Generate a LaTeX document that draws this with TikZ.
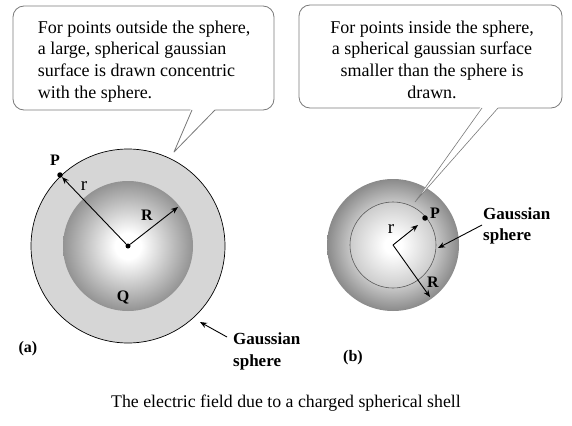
\documentclass[tikz,border=0pt]{standalone}
\usepackage{fontspec}
\setmainfont{Liberation Serif}
\usetikzlibrary{arrows.meta,calc}
\definecolor{ringA}{HTML}{D6D6D6}
\definecolor{edgeA}{HTML}{939393}
\definecolor{edgeB}{HTML}{8A8A8A}
\definecolor{midB}{HTML}{C8C8C8}
\definecolor{edgeC}{HTML}{CCCCCC}
\definecolor{boxline}{HTML}{7A7A7A}
\pgfdeclareradialshading{ballA}{\pgfpoint{0bp}{0bp}}{color(0bp)=(white); color(5bp)=(white); color(25bp)=(edgeA); color(50bp)=(edgeA)}
\pgfdeclareradialshading{ballB}{\pgfpoint{0bp}{0bp}}{color(0bp)=(midB); color(16bp)=(midB); color(25bp)=(edgeB); color(50bp)=(edgeB)}
\pgfdeclareradialshading{ballC}{\pgfpoint{0bp}{0bp}}{color(0bp)=(white); color(5bp)=(white); color(25bp)=(edgeC); color(50bp)=(edgeC)}
\begin{document}
\begin{tikzpicture}[x=1pt,y=-1pt,
  lbl/.style={font=\fontsize{16}{16}\selectfont\bfseries, inner sep=0pt},
  rlbl/.style={font=\fontsize{19}{19}\selectfont, inner sep=0pt},
  gs/.style={font=\fontsize{17}{21}\selectfont\bfseries, align=left, inner sep=0pt},
  arr/.style={-{Stealth[length=7pt,width=5.5pt]}, line width=0.9pt},
  dot/.style={circle, fill=black, inner sep=0pt, minimum size=5.5pt},
  callout/.style={draw=boxline, line width=0.8pt, rounded corners=11pt, fill=white, inner sep=0pt},
  ctext/.style={inner sep=0pt, font=\fontsize{18}{21.7}\selectfont},
  tail/.style={draw=boxline, line width=0.8pt, line join=round}
]
\useasboundingbox[fill=white] (0,0) rectangle (572,425);

% ---------- (a) ----------
\coordinate (A) at (128,246);
\fill[ringA] (A) circle[radius=97];
\draw[line width=0.7pt] (A) circle[radius=97];
\shade[shading=ballA] (A) circle[radius=65];
\node[dot] (Pa) at (60,175) {};
\node[dot, minimum size=5pt] (Ca) at (A) {};
\coordinate (Ra) at (178,207);
\draw[arr] (Ca) -- (Pa);
\draw[arr] (Ca) -- (Ra);
\node[lbl] (Pla) at (55,160) {P};
\node[rlbl] (rla) at (84,186) {r};
\node[lbl] (Rla) at (147,215) {R};
\node[lbl] (Qla) at (123,297) {Q};
\node[gs, anchor=north west] (Ga) at (233,333) {Gaussian\\sphere};
\coordinate (Gta) at (227,337);
\coordinate (Gha) at (200,322);
\draw[arr] (Gta) -- (Gha);
\node[font=\fontsize{16}{16}\selectfont\bfseries, inner sep=0pt] (la) at (28,349) {(a)};

% callout (a)
\node[callout, minimum width=261pt, minimum height=104pt] (ca) at (143.5,58) {};
\node[ctext, align=left] (cat) at (144,61.5)
  {For points outside the sphere,\\a large, spherical gaussian\\surface is drawn concentric\\with the sphere.};
\coordinate (ta1) at (192,110);
\coordinate (ta2) at (215,110);
\coordinate (tat) at (174,152);
\fill[white] (191,108.5) -- (tat) -- (216,108.5) -- cycle;
\draw[tail] (ta1) -- (tat) -- (ta2);

% ---------- (b) ----------
\coordinate (B) at (393,245);
\shade[shading=ballB] (B) circle[radius=66];
\shade[shading=ballC] (B) circle[radius=43];
\draw[black!65, line width=0.6pt] (B) circle[radius=43];
\node[dot] (Pb) at (425,218) {};
\coordinate (rb) at (418,225);
\coordinate (Rb) at (430,297);
\draw[arr] (B) -- (rb);
\draw[arr] (B) -- (Rb);
\node[lbl] (Plb) at (435,213) {P};
\node[rlbl] (rlb) at (391,229) {r};
\node[lbl] (Rlb) at (433,282) {R};
\node[gs, anchor=north west] (Gb) at (483,208) {Gaussian\\sphere};
\coordinate (Gtb) at (482,225);
\coordinate (Ghb) at (438,248);
\draw[arr] (Gtb) -- (Ghb);
\node[font=\fontsize{16}{16}\selectfont\bfseries, inner sep=0pt] (lb) at (353,358) {(b)};

% callout (b)
\node[callout, minimum width=263pt, minimum height=103pt] (cb) at (430.5,56.5) {};
\node[ctext, align=center] (cbt) at (432,59.5)
  {For points inside the sphere,\\a spherical gaussian surface\\smaller than the sphere is\\drawn.};
\coordinate (tb1) at (482,108);
\coordinate (tb2) at (498,108);
\coordinate (tbt) at (415,202);
\fill[white] (481,106.5) -- (tbt) -- (499,106.5) -- cycle;
\draw[tail, line width=0.6pt] (tb1) -- (tbt) -- (tb2);

% caption
\node[font=\fontsize{17.8}{20}\selectfont, anchor=base, inner sep=0pt] (cap) at (286,407)
  {The electric field due to a charged spherical shell};
\end{tikzpicture}
\end{document}
